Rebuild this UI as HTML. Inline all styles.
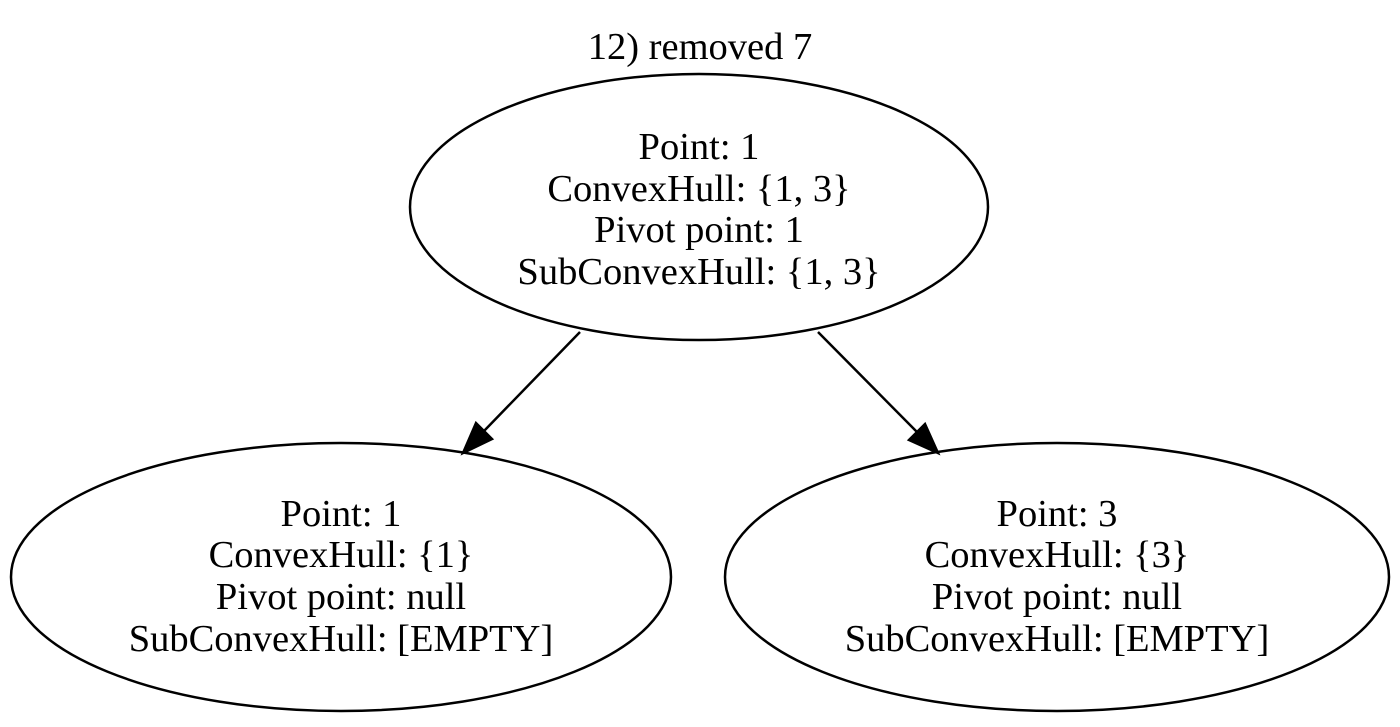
<!DOCTYPE html>
<html><head><style>html,body{margin:0;padding:0;background:#fff;}</style></head>
<body>
<svg width="1400" height="722" xmlns="http://www.w3.org/2000/svg" font-family="Liberation Serif, serif" font-size="38.5" text-anchor="middle" fill="#000">
<text x="700" y="59">12) removed 7</text>
<ellipse cx="699" cy="207" rx="289" ry="133" fill="none" stroke="#000" stroke-width="2.5"/>
<text x="699" y="159">Point: 1</text>
<text x="699" y="201">ConvexHull: {1, 3}</text>
<text x="699" y="242">Pivot point: 1</text>
<text x="699" y="284">SubConvexHull: {1, 3}</text>
<ellipse cx="341" cy="577" rx="330" ry="134" fill="none" stroke="#000" stroke-width="2.5"/>
<text x="341" y="526">Point: 1</text>
<text x="341" y="567">ConvexHull: {1}</text>
<text x="341" y="609">Pivot point: null</text>
<text x="341" y="651">SubConvexHull: [EMPTY]</text>
<ellipse cx="1057" cy="577" rx="332" ry="134" fill="none" stroke="#000" stroke-width="2.5"/>
<text x="1057" y="526">Point: 3</text>
<text x="1057" y="567">ConvexHull: {3}</text>
<text x="1057" y="609">Pivot point: null</text>
<text x="1057" y="651">SubConvexHull: [EMPTY]</text>
<line x1="580" y1="332" x2="484" y2="431" stroke="#000" stroke-width="2.5"/>
<polygon points="463,453 492,439 476,423" stroke="#000" stroke-width="2.5"/>
<line x1="818" y1="332" x2="917" y2="432" stroke="#000" stroke-width="2.5"/>
<polygon points="938,453 925,424 909,440" stroke="#000" stroke-width="2.5"/>
</svg>
</body></html>
